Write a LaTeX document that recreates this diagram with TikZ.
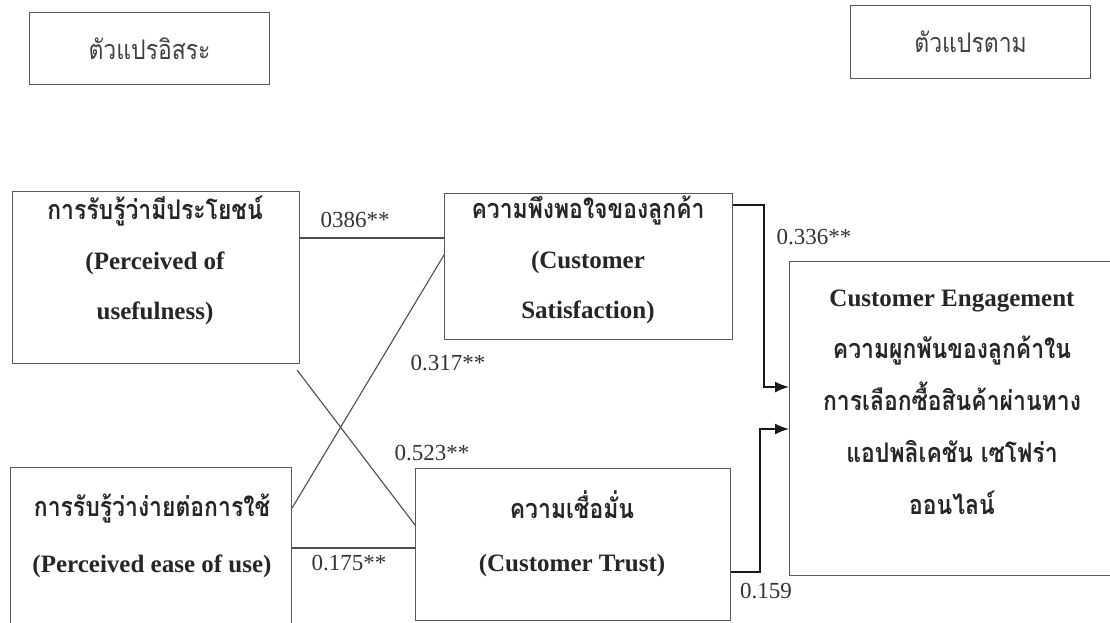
\documentclass[tikz,border=0pt]{standalone}
\usepackage{fontspec}
\setmainfont{Liberation Serif}
\newfontfamily\thai[Script=Thai,FakeStretch=0.85]{Loma}
\newcommand\thtxt[1]{{\thai\fontsize{27}{50}\selectfont #1}}
\usetikzlibrary{arrows.meta}
\begin{document}
\begin{tikzpicture}[x=1pt,y=-1pt,
  box/.style={draw=black!65,line width=1.1pt,rectangle,inner sep=0pt,anchor=north west},
  txt/.style={align=center,text=black!85,font=\bfseries\fontsize{25}{50}\selectfont,inner sep=0pt},
  hdr/.style={text=black!75,font=\thai\fontsize{27}{30}\selectfont,inner sep=0pt},
  lbl/.style={text=black!80,font=\fontsize{23}{26}\selectfont,inner sep=0pt},
  link/.style={draw=black!70,line width=1.1pt},
  arr/.style={draw=black!90,line width=1.6pt,-{Latex[length=14pt,width=11pt]}}]
\clip (0,0) rectangle (1110,623);
\fill[white] (0,0) rectangle (1110,623);
% header boxes
\node[box,minimum width=240pt,minimum height=72pt] (hl) at (29,12) {};
\node[hdr] (hlt) at (hl.center) {ตัวแปรอิสระ};
\node[box,minimum width=240pt,minimum height=73pt] (hr) at (850,5) {};
\node[hdr] (hrt) at (hr.center) {ตัวแปรตาม};
% main boxes
\node[box,minimum width=287pt,minimum height=172pt] (a) at (12,191) {};
\node[box,minimum width=288pt,minimum height=146pt] (b) at (444,193) {};
\node[box,minimum width=281pt,minimum height=170pt] (c) at (10,467) {};
\node[box,minimum width=315pt,minimum height=152pt] (d) at (415,468) {};
\node[box,minimum width=330pt,minimum height=314pt] (e) at (789,261) {};
% texts
\node[txt] (at) at (155,260) {\thtxt{การรับรู้ว่ามีประโยชน์}\\(Perceived of\\usefulness)};
\node[txt] (bt) at (588,260) {\thtxt{ความพึงพอใจของลูกค้า}\\(Customer\\Satisfaction)};
\node[txt,font=\bfseries\fontsize{25}{56}\selectfont] (ct) at (152,536) {\thtxt{การรับรู้ว่าง่ายต่อการใช้}\\(Perceived ease of use)};
\node[txt,font=\bfseries\fontsize{25}{53}\selectfont] (dt) at (572,534) {\thtxt{ความเชื่อมั่น}\\(Customer Trust)};
\node[txt,font=\bfseries\fontsize{25}{52}\selectfont] (et) at (952,402) {Customer Engagement\\\thtxt{ความผูกพันของลูกค้าใน}\\\thtxt{การเลือกซื้อสินค้าผ่านทาง}\\\thtxt{แอปพลิเคชัน เซโฟร่า}\\\thtxt{ออนไลน์}};
% connectors
\draw[link] ([yshift=-47pt]a.north east) -- ([yshift=-45pt]b.north west);
\draw[link] ([yshift=-41pt]c.north east) -- ([yshift=-62pt]b.north west);
\draw[link] ([xshift=-3pt,yshift=-6pt]a.south east) -- ([yshift=-57pt]d.north west);
\draw[link] ([yshift=-81pt]c.north east) -- ([yshift=-80pt]d.north west);
\draw[arr] ([yshift=-12pt]b.north east) -- ++(31,0) |- ([yshift=-126pt]e.north west);
\draw[arr] ([yshift=-104pt]d.north east) -- ++(29,0) |- ([yshift=-168pt]e.north west);
% labels
\node[lbl] (l1) at (355,220) {0386**};
\node[lbl] (l2) at (448,363) {0.317**};
\node[lbl] (l3) at (432,453) {0.523**};
\node[lbl] (l4) at (349,563) {0.175**};
\node[lbl] (l5) at (814,237) {0.336**};
\node[lbl] (l6) at (766,591) {0.159};
\end{tikzpicture}
\end{document}
